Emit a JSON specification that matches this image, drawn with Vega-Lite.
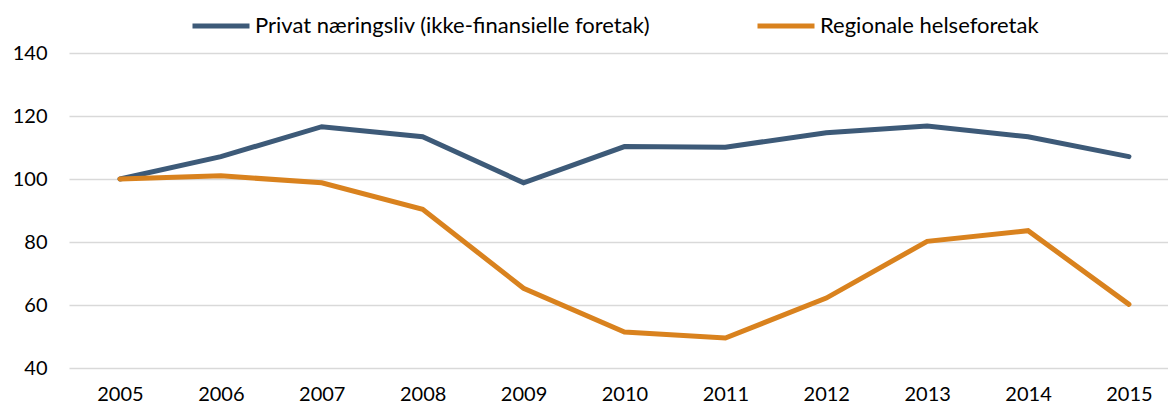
{
  "$schema": "https://vega.github.io/schema/vega-lite/v6.json",
  "width": 1099,
  "height": 315,
  "autosize": {"type": "none"},
  "padding": {"left": 69, "top": 53, "right": 0, "bottom": 39},
  "background": "white",
  "config": {
    "view": {"stroke": null},
    "font": "Lato",
    "axis": {"labelFont": "Lato", "labelColor": "#000000", "labelFontSize": 20, "domain": false, "ticks": false, "title": null}
  },
  "data": {
    "values": [
      {"year": 2005, "series": "Privat næringsliv (ikke-finansielle foretak)", "value": 100},
      {"year": 2006, "series": "Privat næringsliv (ikke-finansielle foretak)", "value": 107.1},
      {"year": 2007, "series": "Privat næringsliv (ikke-finansielle foretak)", "value": 116.6},
      {"year": 2008, "series": "Privat næringsliv (ikke-finansielle foretak)", "value": 113.4},
      {"year": 2009, "series": "Privat næringsliv (ikke-finansielle foretak)", "value": 98.8},
      {"year": 2010, "series": "Privat næringsliv (ikke-finansielle foretak)", "value": 110.3},
      {"year": 2011, "series": "Privat næringsliv (ikke-finansielle foretak)", "value": 110.1},
      {"year": 2012, "series": "Privat næringsliv (ikke-finansielle foretak)", "value": 114.7},
      {"year": 2013, "series": "Privat næringsliv (ikke-finansielle foretak)", "value": 116.8},
      {"year": 2014, "series": "Privat næringsliv (ikke-finansielle foretak)", "value": 113.4},
      {"year": 2015, "series": "Privat næringsliv (ikke-finansielle foretak)", "value": 107.1},
      {"year": 2005, "series": "Regionale helseforetak", "value": 100},
      {"year": 2006, "series": "Regionale helseforetak", "value": 101},
      {"year": 2007, "series": "Regionale helseforetak", "value": 98.8},
      {"year": 2008, "series": "Regionale helseforetak", "value": 90.4},
      {"year": 2009, "series": "Regionale helseforetak", "value": 65.3},
      {"year": 2010, "series": "Regionale helseforetak", "value": 51.4},
      {"year": 2011, "series": "Regionale helseforetak", "value": 49.5},
      {"year": 2012, "series": "Regionale helseforetak", "value": 62.2},
      {"year": 2013, "series": "Regionale helseforetak", "value": 80.2},
      {"year": 2014, "series": "Regionale helseforetak", "value": 83.6},
      {"year": 2015, "series": "Regionale helseforetak", "value": 60.2}
    ]
  },
  "mark": {"type": "line", "strokeWidth": 5, "strokeCap": "round", "strokeJoin": "miter", "clip": false},
  "encoding": {
    "x": {
      "field": "year", "type": "quantitative",
      "scale": {"domain": [2004.495, 2015.387], "nice": false, "zero": false},
      "axis": {"values": [2005, 2006, 2007, 2008, 2009, 2010, 2011, 2012, 2013, 2014, 2015], "format": "d", "grid": false, "labelPadding": 16, "labelFlush": false}
    },
    "y": {
      "field": "value", "type": "quantitative",
      "scale": {"domain": [40, 140], "nice": false, "zero": false},
      "axis": {"values": [40, 60, 80, 100, 120, 140], "grid": true, "gridColor": "#D9D9D9", "gridWidth": 1.5, "labelPadding": 22}
    },
    "color": {
      "field": "series", "type": "nominal",
      "scale": {"domain": ["Privat næringsliv (ikke-finansielle foretak)", "Regionale helseforetak"], "range": ["#3D5A78", "#D9821E"]},
      "legend": {
        "title": null, "orient": "none", "direction": "horizontal",
        "legendX": 121, "legendY": -58,
        "symbolType": "stroke", "symbolSize": 3249, "symbolStrokeWidth": 5,
        "labelFont": "Lato", "labelFontSize": 22, "labelColor": "#000000",
        "labelOffset": 3, "columnPadding": 96, "labelLimit": 700
      }
    }
  }
}
